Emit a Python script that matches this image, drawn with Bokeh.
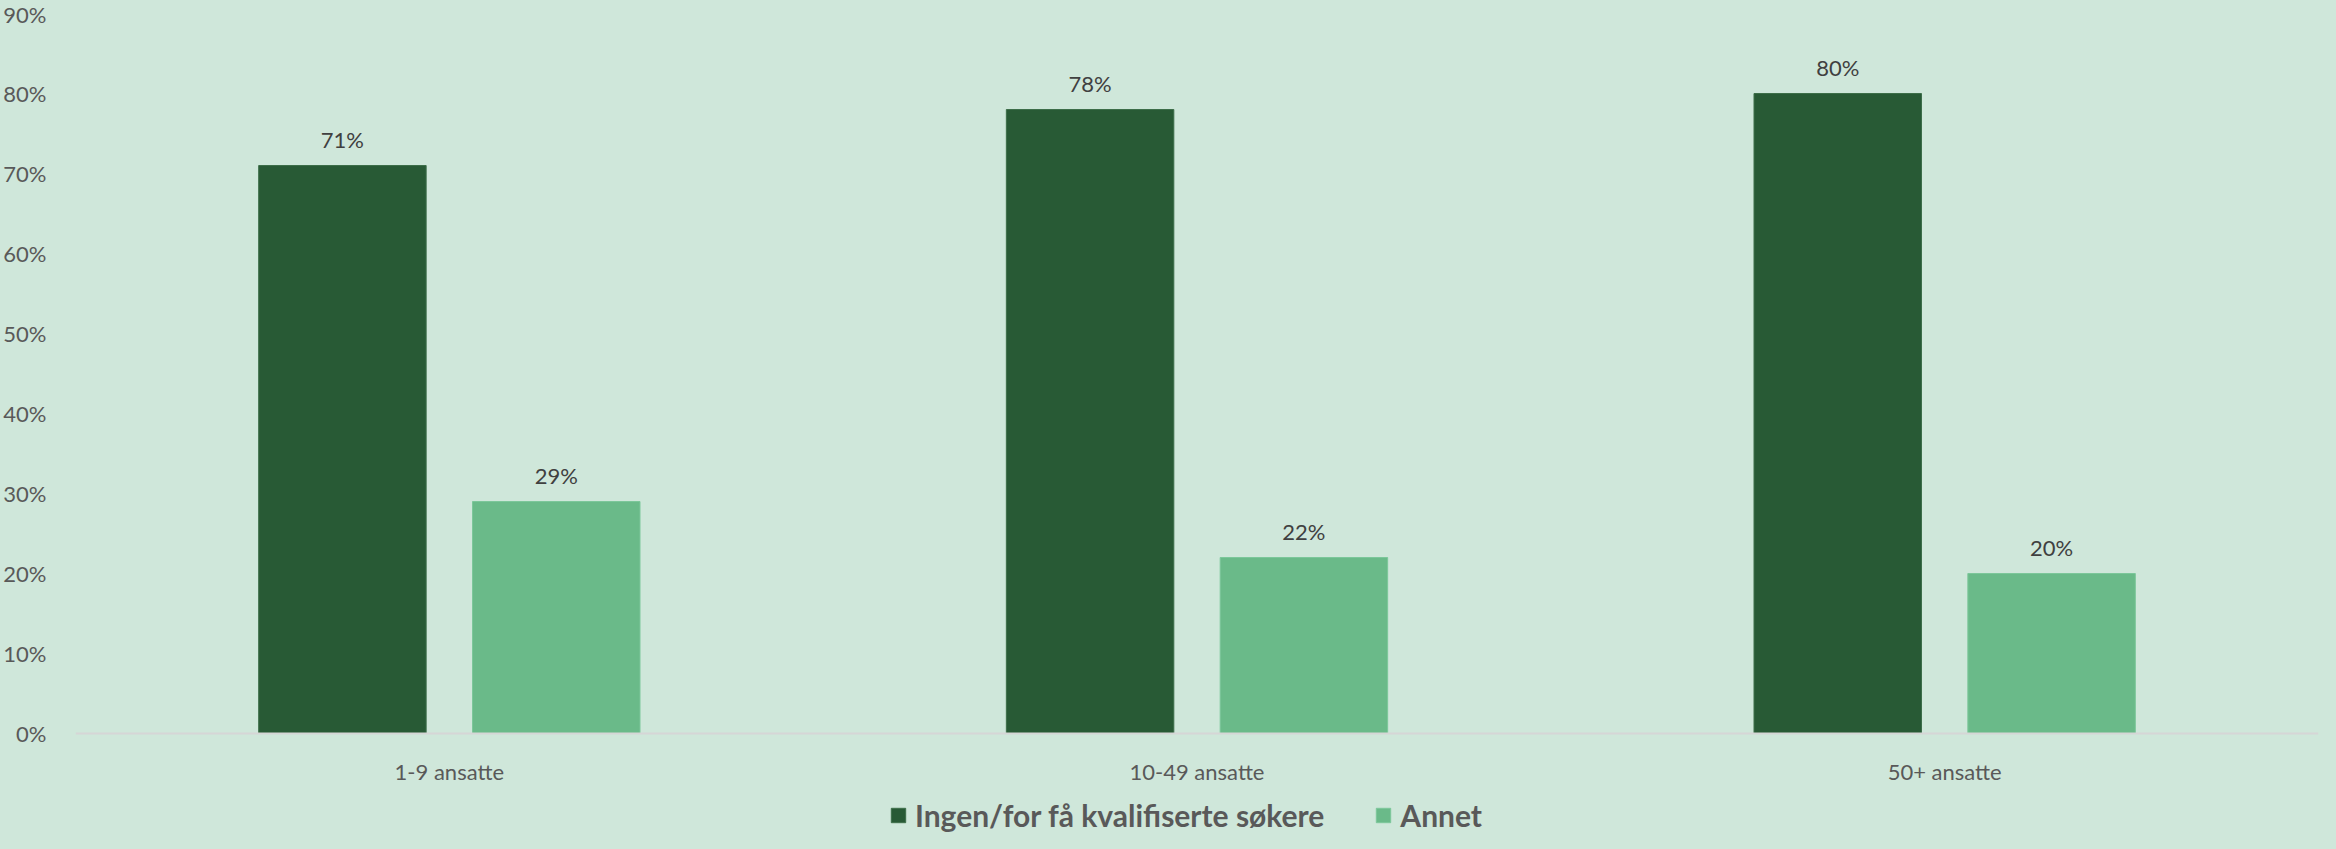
from bokeh.plotting import figure
from bokeh.models import (ColumnDataSource, FactorRange, Range1d, FixedTicker,
                          PrintfTickFormatter, Legend, LegendItem)
from bokeh.transform import dodge
from bokeh.core.properties import value
from bokeh.embed import file_html
from bokeh.resources import INLINE

categories = ["1-9 ansatte", "10-49 ansatte", "50+ ansatte"]
series_names = ["Ingen/for få kvalifiserte søkere", "Annet"]
ingen = [71, 78, 80]
annet = [29, 22, 20]
y_ticks = [0, 10, 20, 30, 40, 50, 60, 70, 80, 90]

BG = "#CFE7DA"
DARK = "#285A35"
LIGHT = "#6ABA89"
TXT = "#595959"
FONT = "Lato"

src = ColumnDataSource(dict(
    cat=categories,
    ingen=ingen,
    annet=annet,
    ingen_lbl=[f"{v}%" for v in ingen],
    annet_lbl=[f"{v}%" for v in annet],
))

p = figure(width=2320, height=833, output_backend="svg", toolbar_location=None,
           x_range=FactorRange(*categories, range_padding=0),
           y_range=Range1d(-12.5, 90),
           min_border_left=68, min_border_right=2, min_border_top=13,
           min_border_bottom=0,
           background_fill_color=BG, border_fill_color=BG, outline_line_color=None)

r1 = p.vbar(x=dodge("cat", -0.143, range=p.x_range), top="ingen", bottom=0, width=0.224,
            source=src, fill_color=DARK, line_color="#3d6e49", line_width=1)
r2 = p.vbar(x=dodge("cat", 0.143, range=p.x_range), top="annet", bottom=0, width=0.224,
            source=src, fill_color=LIGHT, line_color="#7cc79a", line_width=1)

p.text(x=dodge("cat", -0.143, range=p.x_range), y="ingen", text="ingen_lbl", source=src,
       text_align="center", text_baseline="middle", y_offset=-26,
       text_font=value(FONT), text_font_size="22px", text_color="#404040")
p.text(x=dodge("cat", 0.143, range=p.x_range), y="annet", text="annet_lbl", source=src,
       text_align="center", text_baseline="middle", y_offset=-26,
       text_font=value(FONT), text_font_size="22px", text_color="#404040")

p.xgrid.grid_line_color = None
p.ygrid.grid_line_color = None

p.yaxis.ticker = FixedTicker(ticks=y_ticks)
p.yaxis.formatter = PrintfTickFormatter(format="%d%%")
p.yaxis.axis_line_color = None
p.yaxis.major_tick_line_color = None
p.yaxis.minor_tick_line_color = None
p.yaxis.major_label_standoff = 23
p.yaxis.major_label_text_font = FONT
p.yaxis.major_label_text_font_size = "22px"
p.yaxis.major_label_text_color = TXT

p.xaxis.fixed_location = 0
p.xaxis.axis_line_color = "#D6D6D6"
p.xaxis.axis_line_width = 2
p.xaxis.major_tick_line_color = None
p.xaxis.minor_tick_line_color = None
p.xaxis.major_label_standoff = 18
p.xaxis.major_label_text_font = FONT
p.xaxis.major_label_text_font_size = "22px"
p.xaxis.major_label_text_color = TXT

legend = Legend(items=[LegendItem(label=series_names[0], renderers=[r1]),
                       LegendItem(label=series_names[1], renderers=[r2])],
                orientation="horizontal", location=(814, 0),
                background_fill_alpha=0, border_line_color=None,
                label_text_font=FONT, label_text_font_size="30px",
                label_text_font_style="bold", label_text_color=TXT,
                glyph_width=18, glyph_height=18, label_standoff=8,
                spacing=50, margin=0, padding=0)
p.add_layout(legend, "center")

html = file_html(p, INLINE)
html = html.replace("<head>", "<head><style>body{background:%s;}</style>" % BG, 1)
open("out.html", "w").write(html)
